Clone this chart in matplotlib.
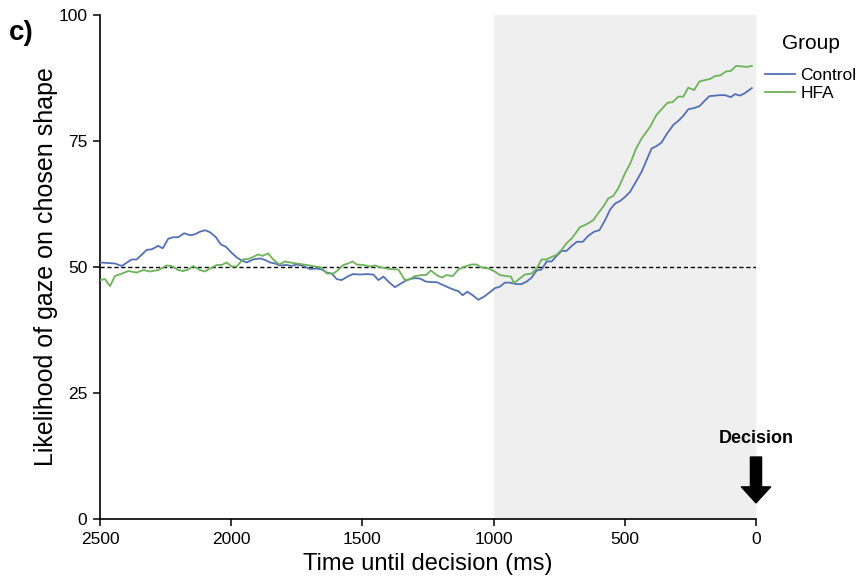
import matplotlib
matplotlib.use("Agg")
import matplotlib.pyplot as plt

plt.rcParams['font.family'] = ['Liberation Sans', 'DejaVu Sans']

# time until decision (ms) and likelihood (%)
control_t = [2500, 2443, 2417, 2379, 2360, 2322, 2303, 2278, 2261, 2240, 2221, 2202,
             2179, 2157, 2138, 2119, 2100, 2081, 2058, 2040, 2020, 1998, 1979, 1960,
             1941, 1916, 1890, 1871, 1852, 1833, 1814, 1788, 1770, 1750, 1725, 1700,
             1674, 1655, 1636, 1617, 1598, 1579, 1554, 1535, 1509, 1484, 1458, 1439,
             1420, 1397, 1376, 1357, 1338, 1319, 1300, 1280, 1258, 1236, 1217, 1192,
             1166, 1147, 1134, 1118, 1100, 1080, 1058, 1037, 1014, 995, 976, 957,
             938, 913, 894, 874, 855, 836, 817, 798, 779, 760, 741, 722, 702, 683,
             660, 639, 617, 597, 575, 556, 537, 518, 499, 480, 461, 436, 417, 398,
             379, 360, 340, 315, 296, 277, 258, 239, 216, 197, 178, 156, 137, 118,
             96, 80, 61, 42, 16]
control_y = [50.9, 50.7, 50.2, 51.5, 51.5, 53.4, 53.5, 54.2, 53.7, 55.6, 55.9, 55.9,
             56.7, 56.3, 56.5, 57.0, 57.3, 56.9, 55.9, 54.5, 54.0, 52.8, 51.9, 51.3,
             50.9, 51.5, 51.7, 51.4, 50.9, 50.7, 50.3, 50.4, 50.2, 50.5, 50.2, 49.6,
             49.7, 49.5, 48.9, 48.7, 47.6, 47.4, 48.2, 48.6, 48.5, 48.6, 48.5, 47.4,
             48.1, 46.9, 46.0, 46.6, 47.2, 47.6, 47.8, 47.7, 47.1, 47.0, 47.0, 46.4,
             45.8, 45.4, 45.2, 44.4, 45.1, 44.4, 43.5, 44.1, 45.0, 45.8, 46.1, 46.9,
             46.9, 46.6, 46.6, 47.1, 47.9, 49.3, 49.5, 51.1, 51.1, 52.2, 53.2, 53.2,
             54.2, 55.0, 55.0, 56.2, 57.0, 57.3, 59.3, 61.4, 62.6, 63.1, 63.9, 64.9,
             66.6, 68.9, 71.2, 73.5, 74.0, 74.7, 76.4, 78.2, 79.0, 80.0, 81.3, 81.5,
             81.9, 82.9, 83.9, 84.0, 84.1, 84.1, 83.7, 84.3, 84.0, 84.5, 85.5]

hfa_t = [2500, 2481, 2462, 2443, 2417, 2392, 2360, 2335, 2310, 2278, 2246, 2227,
         2202, 2183, 2164, 2145, 2119, 2100, 2081, 2055, 2036, 2017, 1998, 1979,
         1956, 1935, 1916, 1897, 1881, 1859, 1840, 1817, 1795, 1776, 1750, 1712,
         1680, 1655, 1636, 1611, 1592, 1573, 1554, 1537, 1522, 1496, 1471, 1452,
         1427, 1395, 1363, 1338, 1319, 1300, 1274, 1258, 1239, 1217, 1198, 1179,
         1156, 1134, 1109, 1084, 1065, 1046, 1020, 995, 976, 953, 934, 922, 903,
         881, 855, 836, 817, 798, 779, 760, 741, 722, 702, 686, 671, 645, 620,
         601, 582, 563, 544, 525, 499, 478, 457, 436, 404, 379, 360, 337, 318,
         296, 277, 258, 236, 216, 194, 175, 156, 137, 114, 96, 76, 54, 35, 16]
hfa_y = [47.4, 47.6, 46.2, 48.2, 48.7, 49.2, 48.9, 49.4, 49.1, 49.4, 50.3, 50.2,
         49.4, 49.2, 49.5, 50.2, 49.4, 49.1, 49.7, 50.4, 50.4, 50.9, 50.1, 50.1,
         51.5, 51.6, 52.0, 52.5, 52.2, 52.7, 51.5, 50.5, 51.1, 50.9, 50.7, 50.4,
         50.1, 49.9, 48.7, 48.7, 49.4, 50.4, 50.7, 51.1, 50.5, 50.4, 50.1, 50.3,
         49.9, 49.6, 49.5, 47.4, 47.6, 48.2, 48.4, 48.4, 49.3, 48.4, 47.9, 48.4,
         48.2, 49.5, 50.1, 50.5, 50.5, 49.9, 49.7, 49.1, 48.4, 48.2, 48.1, 46.8,
         47.6, 48.5, 48.7, 49.7, 51.5, 51.5, 52.0, 52.4, 53.4, 54.7, 55.7, 56.8,
         57.9, 58.5, 59.3, 60.7, 62.0, 63.6, 64.1, 65.6, 68.6, 70.7, 73.5, 75.5,
         77.8, 80.2, 81.3, 82.6, 82.7, 83.8, 83.8, 85.6, 85.1, 86.8, 87.1, 87.3,
         87.9, 88.0, 88.8, 88.9, 89.9, 89.8, 89.7, 89.9]

y_ticks = [0, 25, 50, 75, 100]
x_ticks = [2500, 2000, 1500, 1000, 500, 0]

fig = plt.figure(figsize=(8.65, 5.8), dpi=100)
ax = fig.add_axes([100 / 865, 1 - 519 / 580, 656 / 865, 504 / 580])

ax.axvspan(1000, 0, color='#efefef', lw=0, zorder=0)
ax.axhline(50, color='black', ls='--', lw=1, dashes=(3, 2), zorder=1)
ax.plot(control_t, control_y, color='#5470b5', lw=1.3, label='Control', zorder=3)
ax.plot(hfa_t, hfa_y, color='#6cb35a', lw=1.3, label='HFA', zorder=3)

ax.set_xlim(2500, 0)
ax.set_ylim(0, 100)
ax.set_xticks(x_ticks)
ax.set_yticks(y_ticks)
ax.tick_params(labelsize=12.5, direction='out', length=5, width=1.1, color='black', pad=4)
for s in ['top', 'right']:
    ax.spines[s].set_visible(False)
for s in ['left', 'bottom']:
    ax.spines[s].set_linewidth(1.2)

ax.set_xlabel('Time until decision (ms)', fontsize=17, labelpad=4.5)
ax.set_ylabel('Likelihood of gaze on chosen shape', fontsize=18, labelpad=0)

fig.text(9 / 865, 1 - 33 / 580, 'c)', fontsize=20, fontweight='bold', va='center')

ax.text(0, 15.9, 'Decision', fontsize=13, fontweight='bold', ha='center', va='center')
ax.annotate('', xy=(0, 3.2), xytext=(0, 12.3), annotation_clip=False,
            arrowprops=dict(facecolor='black', edgecolor='black', width=8,
                            headwidth=21, headlength=11.5, shrink=0))

leg = ax.legend(loc='upper left', bbox_to_anchor=(765 / 865, 1 - 34 / 580),
                bbox_transform=fig.transFigure, frameon=False, title='Group',
                fontsize=12.5, title_fontsize=15, handlelength=1.7,
                handletextpad=0.35, labelspacing=0.15, borderpad=0.0,
                borderaxespad=0.0)
leg._legend_box.sep = 11

fig.savefig('out.png', dpi=100)
